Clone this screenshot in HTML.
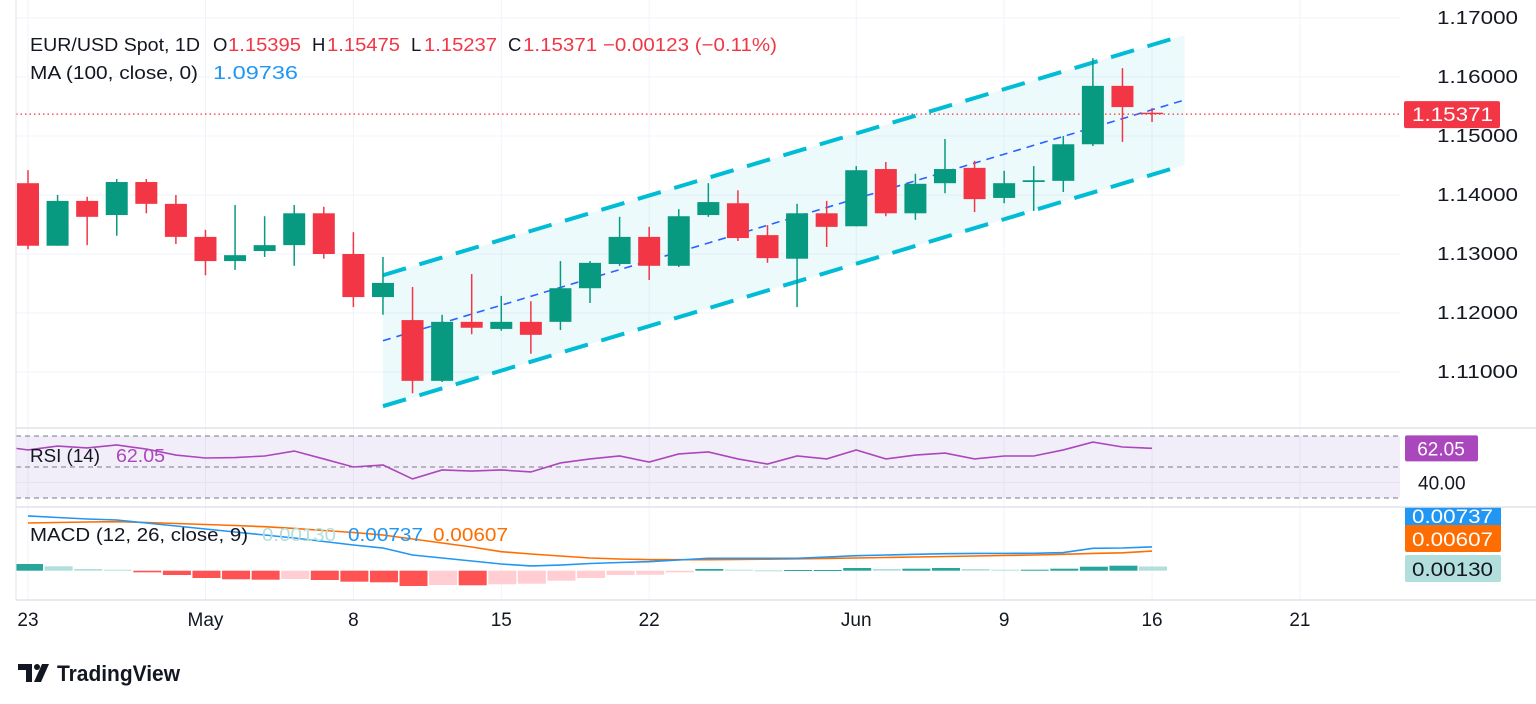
<!DOCTYPE html>
<html><head><meta charset="utf-8"><style>
html,body{margin:0;padding:0;background:#fff;}
svg{display:block;font-family:"Liberation Sans",sans-serif;}
</style></head><body>
<svg id="chart" width="1536" height="704" viewBox="0 0 1536 704" xmlns="http://www.w3.org/2000/svg">
<defs>
<clipPath id="priceClip"><rect x="16" y="0" width="1384" height="428"/></clipPath>
<clipPath id="rsiClip"><rect x="16" y="429" width="1384" height="77"/></clipPath>
<clipPath id="macdClip"><rect x="16" y="508" width="1384" height="92"/></clipPath>
</defs>
<g id="grid"></g>
<g id="channel" clip-path="url(#priceClip)"></g>
<g id="candles" clip-path="url(#priceClip)"></g>
<g id="rsi"></g>
<g id="macd"></g>
<g id="axes"></g>

<g font-size="18.5">
<text x="30" y="51" fill="#131722" textLength="170" lengthAdjust="spacingAndGlyphs">EUR/USD Spot, 1D</text>
<text x="213" y="51" fill="#131722">O</text><text x="228" y="51" fill="#f23645" textLength="73" lengthAdjust="spacingAndGlyphs">1.15395</text>
<text x="312" y="51" fill="#131722">H</text><text x="327" y="51" fill="#f23645" textLength="73" lengthAdjust="spacingAndGlyphs">1.15475</text>
<text x="411" y="51" fill="#131722">L</text><text x="424" y="51" fill="#f23645" textLength="73" lengthAdjust="spacingAndGlyphs">1.15237</text>
<text x="508" y="51" fill="#131722">C</text><text x="523" y="51" fill="#f23645" textLength="254" lengthAdjust="spacingAndGlyphs">1.15371 −0.00123 (−0.11%)</text>
</g>
<g font-size="18.5">
<text x="30" y="79" fill="#131722" textLength="168" lengthAdjust="spacingAndGlyphs">MA (100, close, 0)</text>
<text x="213" y="79" fill="#2196f3" textLength="85" lengthAdjust="spacingAndGlyphs">1.09736</text>
</g>
<g font-size="18.5">
<text x="30" y="462" fill="#131722" textLength="70" lengthAdjust="spacingAndGlyphs">RSI (14)</text>
<text x="116" y="462" fill="#ab47bc" textLength="49" lengthAdjust="spacingAndGlyphs">62.05</text>
</g>
<g font-size="18.5">
<text x="30" y="541" fill="#131722" textLength="218" lengthAdjust="spacingAndGlyphs">MACD (12, 26, close, 9)</text>
<text x="262" y="541" fill="#b2dfdb" textLength="74" lengthAdjust="spacingAndGlyphs">0.00130</text>
<text x="348" y="541" fill="#2196f3" textLength="75" lengthAdjust="spacingAndGlyphs">0.00737</text>
<text x="433" y="541" fill="#ff6d00" textLength="75" lengthAdjust="spacingAndGlyphs">0.00607</text>
</g>

<g>
<path d="M18 664 h14 v18 h-6 v-12 h-8z" fill="#131722"/>
<circle cx="37" cy="667" r="3" fill="#131722"/>
<path d="M42 664 h7 l-8 18 h-7z" fill="#131722"/>
<text x="57" y="681" font-size="22" fill="#131722" font-weight="bold" textLength="123" lengthAdjust="spacingAndGlyphs">TradingView</text>
</g>
</svg>
<script>
const NS="http://www.w3.org/2000/svg";
const openP=[1.1420,1.1314,1.1390,1.1366,1.1422,1.1385,1.1329,1.1288,1.1305,1.1315,1.1369,1.1300,1.1227,1.1188,1.1085,1.1185,1.1173,1.1185,1.1185,1.1242,1.1283,1.1329,1.1280,1.1366,1.1386,1.1332,1.1292,1.1369,1.1347,1.1444,1.1369,1.1420,1.1446,1.1395,1.1422,1.1424,1.1486,1.1585,1.15395];
const highP=[1.1442,1.1400,1.1397,1.1427,1.1427,1.1400,1.1341,1.1383,1.1364,1.1383,1.1380,1.1337,1.1295,1.1244,1.1197,1.1266,1.1229,1.1220,1.1288,1.1288,1.1363,1.1346,1.1376,1.1420,1.1408,1.1349,1.1385,1.1390,1.1449,1.1456,1.1436,1.1495,1.1458,1.1441,1.1449,1.1500,1.1632,1.1615,1.15475];
const lowP=[1.1308,1.1314,1.1315,1.1331,1.1369,1.1317,1.1264,1.1273,1.1295,1.1280,1.1292,1.1210,1.1197,1.1064,1.1083,1.1164,1.1170,1.1131,1.1171,1.1217,1.1280,1.1256,1.1278,1.1363,1.1322,1.1285,1.1210,1.1312,1.1347,1.1364,1.1358,1.1403,1.1371,1.1386,1.1373,1.1405,1.1483,1.1490,1.15237];
const closeP=[1.1314,1.1390,1.1363,1.1422,1.1385,1.1329,1.1288,1.1298,1.1315,1.1369,1.1300,1.1227,1.1251,1.1085,1.1185,1.1175,1.1185,1.1163,1.1242,1.1285,1.1329,1.1280,1.1364,1.1388,1.1327,1.1293,1.1369,1.1346,1.1442,1.1369,1.1419,1.1444,1.1393,1.1420,1.1425,1.1486,1.1585,1.1549,1.15371];
const rsiVals=[61,63.5,62.3,64.2,61.6,57.7,55.8,56.1,57.1,60.3,55.2,50,51.3,42.3,48.1,47.4,48.1,46.8,52.6,55.2,57.1,53.2,58.4,59.7,55.2,51.9,57.1,55.2,61,55.2,57.7,59,55.2,57.1,57.1,61,66.1,62.9,62.05];
const macdVals=[0.01694,0.01647,0.01601,0.0157,0.01477,0.01384,0.01291,0.01198,0.01105,0.01012,0.00904,0.00796,0.00703,0.00486,0.00393,0.003,0.00207,0.00146,0.00176,0.00223,0.00254,0.00279,0.00331,0.00384,0.00384,0.00384,0.00384,0.00424,0.00464,0.00486,0.00508,0.00526,0.00533,0.00536,0.00539,0.00563,0.00693,0.00703,0.00737];
const signalVals=[0.01477,0.01492,0.01508,0.01517,0.01492,0.01461,0.0143,0.01399,0.01362,0.01307,0.01245,0.01183,0.01105,0.00981,0.00858,0.00734,0.00588,0.00517,0.00455,0.00393,0.00362,0.00341,0.00341,0.00341,0.00347,0.00356,0.00368,0.00381,0.00393,0.00409,0.00424,0.0044,0.00455,0.00471,0.00486,0.00508,0.00533,0.00554,0.00607];
const histVals=[0.00207,0.00136,0.00053,0.00031,-0.0005,-0.00133,-0.00226,-0.00266,-0.00279,-0.00257,-0.00288,-0.0034,-0.00359,-0.00474,-0.00443,-0.00452,-0.00421,-0.00402,-0.0031,-0.00226,-0.00133,-0.00124,-0.0005,0.00053,0.00031,0.00012,0.00022,0.00022,0.00084,0.00053,0.00062,0.00084,0.00053,0.00031,0.00031,0.00062,0.00124,0.00155,0.0013];
const priceTicks=["1.17000","1.16000","1.15000","1.14000","1.13000","1.12000","1.11000"];
const dateLabels=["23","May","8","15","22","Jun","9","16","21"];
const dateIdx=[0,6,11,16,21,28,33,38,43];
const channelUpper=[1.1264,1.1671];
const channelMid=[1.1153,1.1561];
const channelLower=[1.1042,1.1451];
const channelIdx=[12,39.1];
const lastPrice=1.15371;

const X=i=>28+i*29.58;
const Y=p=>77+(1.16-p)*5900;
const RY=v=>467-(v-50)*1.55;
const MY=v=>570.7-v*3230;
function mk(tag,attrs,parent){const e=document.createElementNS(NS,tag);for(const k in attrs)e.setAttribute(k,attrs[k]);parent.appendChild(e);return e;}
const svg=document.getElementById('chart');
const grid=document.getElementById('grid'),axes=document.getElementById('axes');

priceTicks.forEach(t=>{const y=Y(parseFloat(t));
 const l=mk('line',{x1:16,x2:1400,y1:y,y2:y,stroke:'#f0f3fa','stroke-width':1},grid);
 
 
 const tx=mk('text',{x:1437,y:y+6,'font-size':18,fill:'#131722',textLength:81,lengthAdjust:'spacingAndGlyphs'},axes);tx.textContent=t;
 
 
});
dateIdx.forEach((d,k)=>{const x=X(d);
 const l=mk('line',{x1:x,x2:x,y1:0,y2:600,stroke:'#f0f3fa','stroke-width':1},grid);
 
 
 const tx=mk('text',{x:x,y:626,'font-size':19,fill:'#131722','text-anchor':'middle'},axes);tx.textContent=dateLabels[k];
 
 
});
[[428],[507],[600]].forEach(([y])=>{const l=mk('line',{x1:16,x2:1536,y1:y,y2:y,stroke:'#e0e3eb','stroke-width':1.5},axes);
 
 });
const vb=mk('line',{x1:16,x2:16,y1:0,y2:600,stroke:'#e0e3eb','stroke-width':1},axes);



const ch=document.getElementById('channel');
const poly=mk('polygon',{points:`${X(channelIdx[0])},${Y(channelUpper[0])} ${X(channelIdx[1])},${Y(channelUpper[1])} ${X(channelIdx[1])},${Y(channelLower[1])} ${X(channelIdx[0])},${Y(channelLower[0])}`,fill:'#00bcd4','fill-opacity':0.07},ch);


[[channelUpper,'channel-upper'],[channelLower,'channel-lower']].forEach(([a,n])=>{
 const l=mk('line',{x1:X(channelIdx[0]),y1:Y(a[0]),x2:X(channelIdx[1])-8,y2:Y(a[1])+2.4,stroke:'#00bcd4','stroke-width':4,'stroke-dasharray':'24 14'},ch);
 
 
});
const ml=mk('line',{x1:X(channelIdx[0]),y1:Y(channelMid[0]),x2:X(channelIdx[1]),y2:Y(channelMid[1]),stroke:'#2962ff','stroke-width':1.6,'stroke-dasharray':'8 6'},ch);



const cg=document.getElementById('candles');
const pl=mk('line',{x1:16,x2:1400,y1:Y(lastPrice),y2:Y(lastPrice),stroke:'#f23645','stroke-width':1.2,'stroke-dasharray':'1.5 3'},cg);


openP.forEach((o,i)=>{const c=closeP[i],up=c>=o,col=up?'#089981':'#f23645',x=X(i);
 const g=mk('g',{},cg);
 
 
 mk('line',{x1:x,x2:x,y1:Y(highP[i]),y2:Y(lowP[i]),stroke:col,'stroke-width':1.5},g);
 const t=Math.min(Y(o),Y(c)),h=Math.max(1.5,Math.abs(Y(o)-Y(c)));
 mk('rect',{x:x-11,y:t,width:22,height:h,fill:col},g);
});

const rg=document.getElementById('rsi');
const band=mk('rect',{x:16,y:RY(70),width:1384,height:RY(30)-RY(70),fill:'#7e57c2','fill-opacity':0.1},rg);


const g40=mk('line',{x1:16,x2:1400,y1:RY(40),y2:RY(40),stroke:'#e6e3ef'},rg);


[70,50,30].forEach(v=>{const l=mk('line',{x1:16,x2:1400,y1:RY(v),y2:RY(v),stroke:'#787b86','stroke-width':1,'stroke-dasharray':'5 4'},rg);
 
 });
const rp=mk('polyline',{points:[[X(-1),RY(63.5)]].concat(rsiVals.map((v,i)=>[X(i),RY(v)])).map(p=>p.join(',')).join(' '),fill:'none',stroke:'#ab47bc','stroke-width':1.6,'clip-path':'url(#rsiClip)'},rg);


const rb=mk('rect',{x:1405,y:RY(rsiVals[rsiVals.length-1])-13,width:73,height:26,rx:2,fill:'#ab47bc'},rg);


const rt=mk('text',{x:1441,y:RY(rsiVals[rsiVals.length-1])+7,'font-size':19,fill:'#fff','text-anchor':'middle'},rg);rt.textContent=rsiVals[rsiVals.length-1].toFixed(2);


const r40=mk('text',{x:1418,y:RY(40)+7,'font-size':19,fill:'#131722'},rg);r40.textContent='40.00';



const mg=document.getElementById('macd');
histVals.forEach((v,i)=>{const prev=i>0?histVals[i-1]:v;
 let col; if(v>=0) col=v>=prev?'#26a69a':'#b2dfdb'; else col=v<prev?'#ff5252':'#ffcdd2';
 const y0=MY(0),y1=MY(v);
 const r=mk('rect',{x:X(i)-13,y:Math.min(y0,y1),width:28,height:Math.max(1,Math.abs(y1-y0)),fill:col,'clip-path':'url(#macdClip)'},mg);
 
 
});
const sl=mk('polyline',{points:signalVals.map((v,i)=>X(i)+','+MY(v)).join(' '),fill:'none',stroke:'#ff6d00','stroke-width':1.6,'clip-path':'url(#macdClip)'},mg);


const mline=mk('polyline',{points:macdVals.map((v,i)=>X(i)+','+MY(v)).join(' '),fill:'none',stroke:'#2196f3','stroke-width':1.6,'clip-path':'url(#macdClip)'},mg);


[[502,'#2196f3','0.00737','#fff'],[525,'#ff6d00','0.00607','#fff'],[555,'#b2dfdb','0.00130','#131722']].forEach(([y,c,t,tc])=>{
 const r=mk('rect',{x:1405,y:y,width:96,height:27,rx:2,fill:c},mg);
 
 
 const tx=mk('text',{x:1412,y:y+21,'font-size':19,fill:tc,textLength:81,lengthAdjust:'spacingAndGlyphs'},mg);tx.textContent=t;
 
 
});
const cov=mk('rect',{x:1400,y:429,width:136,height:78,fill:'#fff'},mg);


mg.parentNode.insertBefore(mg,rg);
const pb=mk('rect',{x:1404,y:Y(lastPrice)-13,width:96,height:27,rx:2,fill:'#f23645'},axes);


const pt=mk('text',{x:1412,y:Y(lastPrice)+7,'font-size':19,fill:'#fff',textLength:81,lengthAdjust:'spacingAndGlyphs'},axes);pt.textContent=lastPrice.toFixed(5);


</script>
</body></html>
